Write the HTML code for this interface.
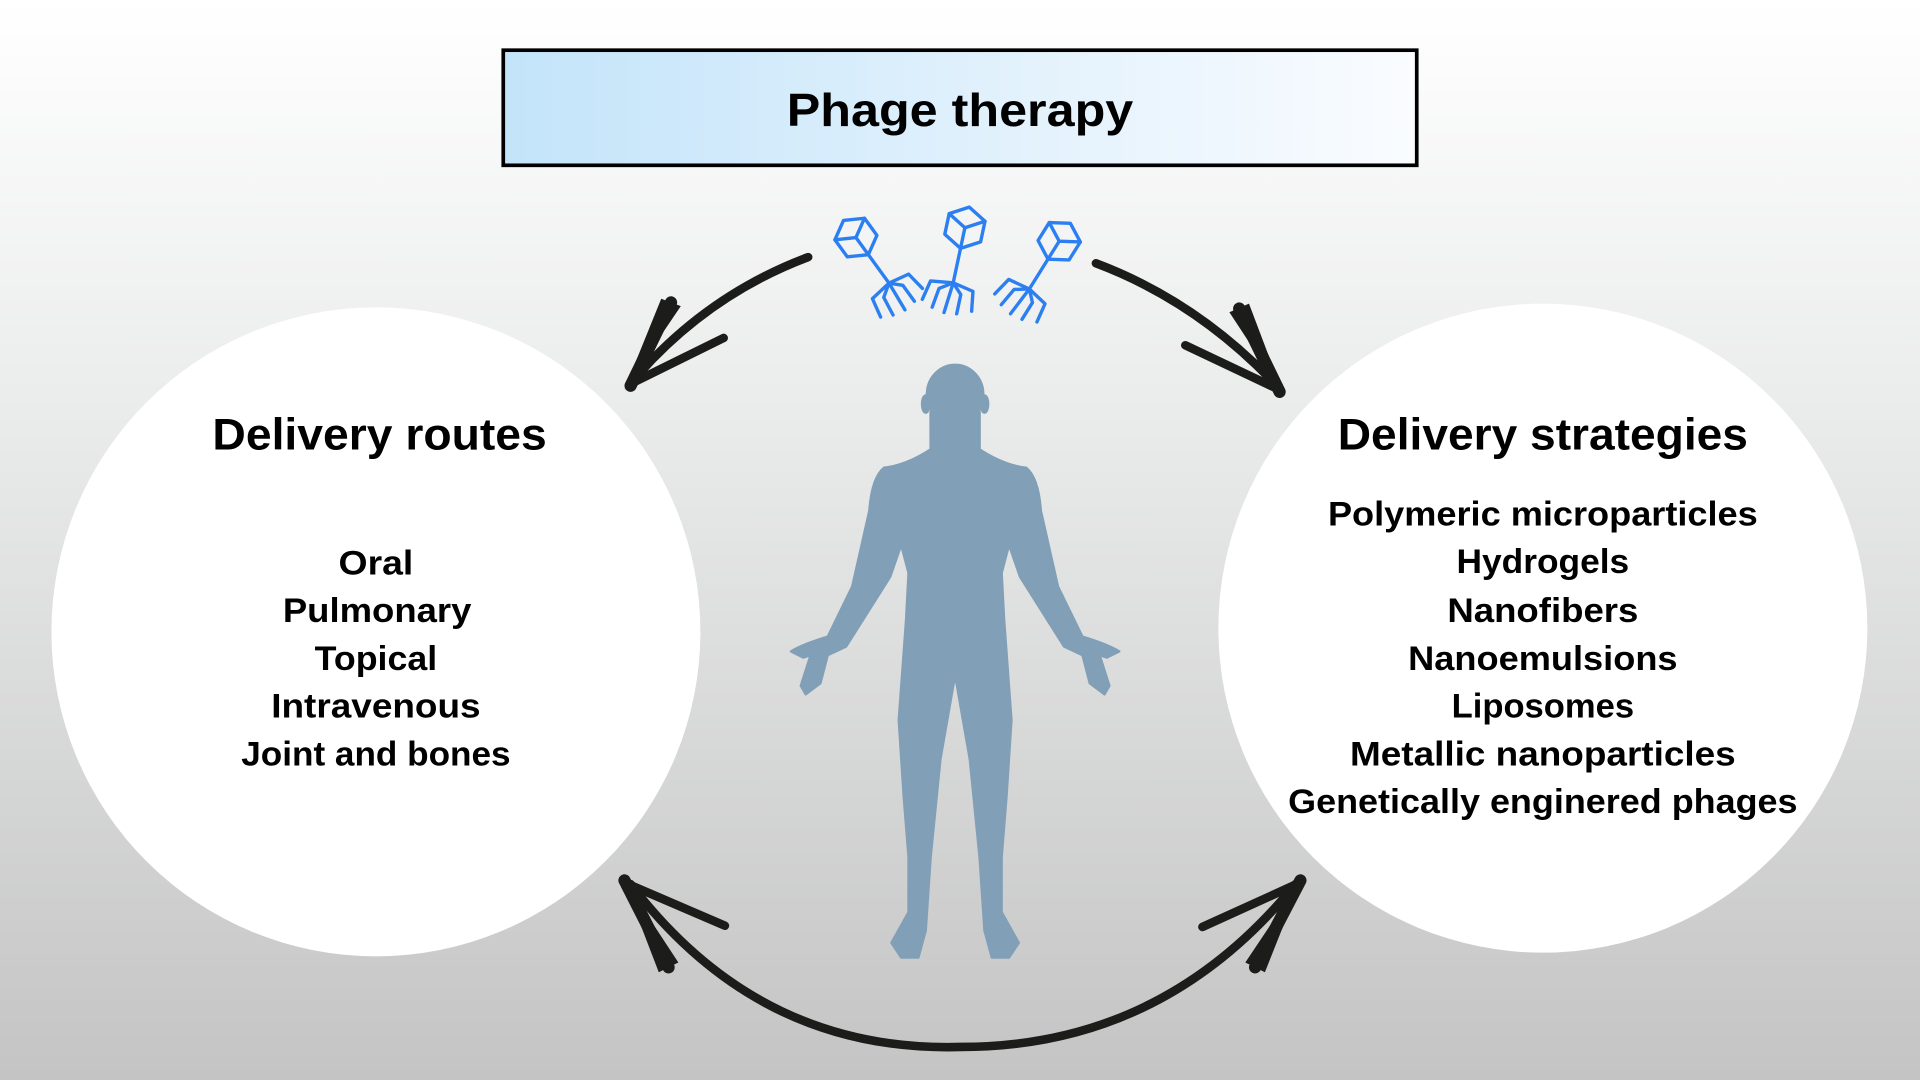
<!DOCTYPE html>
<html><head><meta charset="utf-8"><style>
html,body{margin:0;padding:0;width:1920px;height:1080px;overflow:hidden}
svg{display:block}
text{font-family:"Liberation Sans",sans-serif;font-weight:bold;fill:#000;text-anchor:middle}
</style></head><body>
<svg width="1920" height="1080" viewBox="0 0 1568 882" xmlns="http://www.w3.org/2000/svg">
<defs>
<linearGradient id="bg" x1="0" y1="0" x2="0" y2="1">
<stop offset="0" stop-color="#ffffff"/><stop offset="0.35" stop-color="#eceded"/><stop offset="1" stop-color="#c4c4c4"/>
</linearGradient>
<linearGradient id="tb" x1="0" y1="0" x2="1" y2="0">
<stop offset="0" stop-color="#c3e4fa"/><stop offset="0.5" stop-color="#dff0fc"/><stop offset="1" stop-color="#fafcff"/>
</linearGradient>
<g id="phage" fill="none" stroke="#2b7ff0" stroke-width="2.4" stroke-linejoin="round" stroke-linecap="round">
<polygon points="0,-15 13,-7.5 13,7.5 0,15 -13,7.5 -13,-7.5"/>
<polyline points="-13,-7.5 0,0 13,-7.5"/><line x1="0" y1="0" x2="0" y2="15"/>
<line x1="0" y1="15" x2="0" y2="40"/>
<polyline points="0,40 -16,42 -19,56"/>
<polyline points="0,40 -9,46 -11,60"/>
<polyline points="0,40 -2,62"/>
<polyline points="0,40 7,47 7,61"/>
<polyline points="0,40 15,43 17,57"/>
</g>
</defs>
<rect width="1568" height="882" fill="url(#bg)"/>
<rect x="411" y="41" width="746" height="94" fill="url(#tb)" stroke="#000" stroke-width="3"/>
<text x="784" y="103" font-size="38" textLength="283" lengthAdjust="spacingAndGlyphs">Phage therapy</text>

<circle cx="307" cy="516" r="265" fill="#fff"/>
<circle cx="1260" cy="513" r="265" fill="#fff"/>

<text x="310" y="367" font-size="36" textLength="273" lengthAdjust="spacingAndGlyphs">Delivery routes</text>
<text x="1260" y="367" font-size="36" textLength="335" lengthAdjust="spacingAndGlyphs">Delivery strategies</text>
<g font-size="28">
<text x="307" y="469" textLength="61" lengthAdjust="spacingAndGlyphs">Oral</text>
<text x="308" y="508" textLength="154" lengthAdjust="spacingAndGlyphs">Pulmonary</text>
<text x="307" y="547" textLength="100" lengthAdjust="spacingAndGlyphs">Topical</text>
<text x="307" y="586" textLength="171" lengthAdjust="spacingAndGlyphs">Intravenous</text>
<text x="307" y="625" textLength="220" lengthAdjust="spacingAndGlyphs">Joint and bones</text>
<text x="1260" y="429" textLength="351" lengthAdjust="spacingAndGlyphs">Polymeric microparticles</text>
<text x="1260" y="468" textLength="141" lengthAdjust="spacingAndGlyphs">Hydrogels</text>
<text x="1260" y="508" textLength="156" lengthAdjust="spacingAndGlyphs">Nanofibers</text>
<text x="1260" y="547" textLength="220" lengthAdjust="spacingAndGlyphs">Nanoemulsions</text>
<text x="1260" y="586" textLength="149" lengthAdjust="spacingAndGlyphs">Liposomes</text>
<text x="1260" y="625" textLength="315" lengthAdjust="spacingAndGlyphs">Metallic nanoparticles</text>
<text x="1260" y="664" textLength="416" lengthAdjust="spacingAndGlyphs">Genetically enginered phages</text>
</g>

<!-- human -->
<g fill="#819fb6" stroke="#819fb6" stroke-width="2" stroke-linejoin="round">
<ellipse cx="780" cy="322" rx="23" ry="24"/>
<ellipse cx="756" cy="330" rx="3" ry="7"/><ellipse cx="804" cy="330" rx="3" ry="7"/>
<path d="M800,336 L800,367 Q820,380 838,382 Q848,390 850,417 L864,479 L884,520 Q904,526 914,532 L904,537 L898,535 L906,560 L902,567 L890,558 L884,535 L869,528 L833,471 L824,445 L818,468 L820,506 L826,588 L822,650 L818,700 L818,745 L832,770 L824,782 L810,782 L804,760 L800,700 L792,620 L781,557
L779,557 L768,620 L760,700 L756,760 L750,782 L736,782 L728,770 L742,745 L742,700 L738,650 L734,588 L740,506 L742,468 L736,445 L727,471 L691,528 L676,535 L670,558 L658,567 L654,560 L662,535 L656,537 L646,532 Q656,526 676,520 L696,479 L710,417 Q712,390 722,382 Q740,380 760,367 L760,336 Z"/>
</g>

<!-- phages -->
<use href="#phage" transform="translate(699,194) rotate(-36) scale(1.15)"/>
<use href="#phage" transform="translate(788,186) rotate(12) scale(1.15)"/>
<use href="#phage" transform="translate(865,197) rotate(32) scale(1.15)"/>

<!-- arrows -->
<g fill="none" stroke="#1c1c1a" stroke-linecap="round">
<path d="M660,210 Q580,240 522,305" stroke-width="7"/>
<path d="M515,315 L548,247" stroke-width="10"/>
<path d="M518,312 L591,276" stroke-width="7"/>
<path d="M895,215 Q975,245 1038,310" stroke-width="7"/>
<path d="M1045,320 L1012,252" stroke-width="10"/>
<path d="M1042,317 L968,282" stroke-width="7"/>
<path d="M515,722 Q620,860 785,855 Q950,855 1058,722" stroke-width="7"/>
<path d="M510,719 L546,790" stroke-width="10"/>
<path d="M513,722 L592,756" stroke-width="7"/>
<path d="M1062,719 L1025,790" stroke-width="10"/>
<path d="M1059,722 L982,757" stroke-width="7"/>
</g>
<g fill="#1c1c1a">
<polygon points="510,318 540,244 556,250"/>
<polygon points="1048,322 1020,248 1004,255"/>
<polygon points="508,716 554,786 538,794"/>
<polygon points="1064,716 1033,794 1017,786"/>
</g>
</svg>
</body></html>
